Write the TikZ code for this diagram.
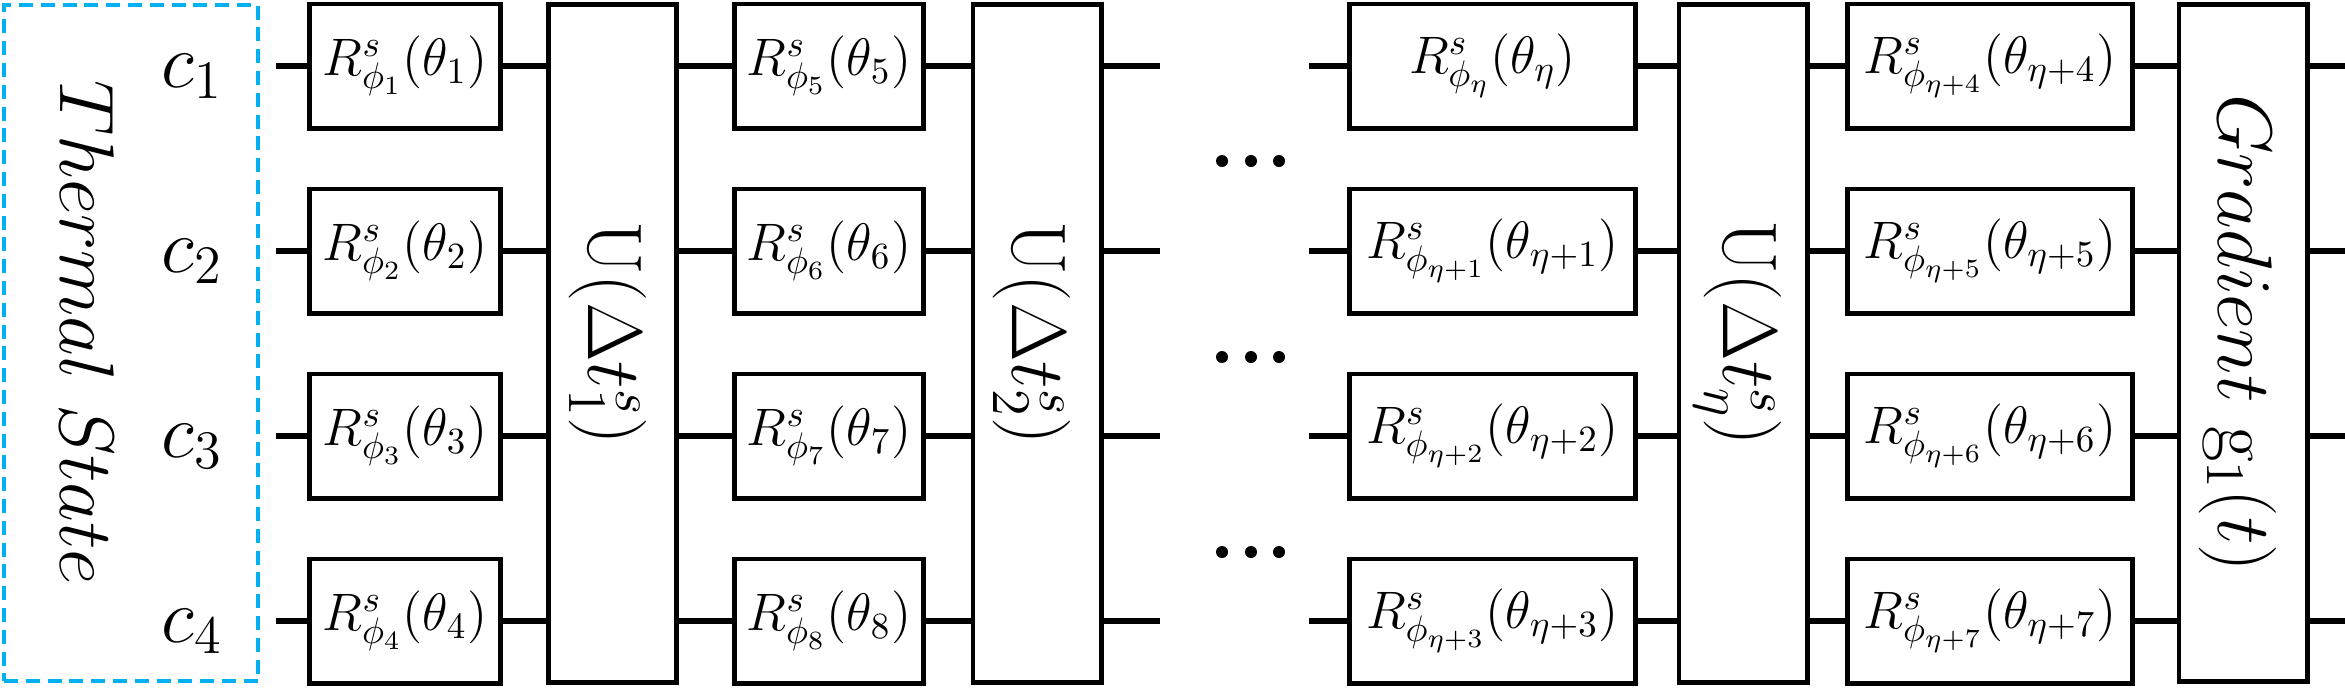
\documentclass[tikz,border=0pt]{standalone}
\usepackage{fix-cm}
\definecolor{tsblue}{RGB}{0,176,240}
\begin{document}
\begin{tikzpicture}[x=0.01cm,y=-0.01cm,
  wire/.style={line width=1.8pt},
  rgate/.style={draw, line width=1.4pt, minimum width=#1, minimum height=1.24cm, inner sep=0pt, font=\fontsize{15}{17}\selectfont},
  ugate/.style={draw, line width=1.4pt, minimum width=1.28cm, minimum height=6.77cm, inner sep=0pt},
  biglabel/.style={rotate=-90, inner sep=0pt, font=\fontsize{22}{26}\selectfont},
  clabel/.style={anchor=base, inner sep=0pt, font=\fontsize{22}{26}\selectfont},
  tsbox/.style={draw=tsblue, dash pattern=on 4pt off 2.2pt, line width=1.2pt, minimum width=2.54cm, minimum height=6.76cm, inner sep=0pt},
  dotfill/.style={fill=black}
]
\useasboundingbox (0,0) rectangle (2345,690);

% thermal state box
\node[tsbox] (TS) at (131,343) {};
\node[biglabel] (TSt) at (87,333) {$Thermal\ State$};

% rows
\foreach \i/\y in {1/66,2/251,3/436,4/621} {
  \coordinate (s\i) at (276,\y);
  \coordinate (e\i) at (1160,\y);
  \coordinate (f\i) at (1309,\y);
  \coordinate (t\i) at (2345,\y);
  \node[clabel] (c\i) at (192,\y+21) {$c_{\i}$};
}

% column 1
\node[rgate=1.9cm] (A1) at (405,66)  {$R^s_{\phi_1}(\theta_1)$};
\node[rgate=1.9cm] (A2) at (405,251) {$R^s_{\phi_2}(\theta_2)$};
\node[rgate=1.9cm] (A3) at (405,436) {$R^s_{\phi_3}(\theta_3)$};
\node[rgate=1.9cm] (A4) at (405,621) {$R^s_{\phi_4}(\theta_4)$};

% U1
\node[ugate] (U1) at (612.5,343.5) {};
\node[biglabel] (U1t) at (608,333) {$\mathrm{U}(\Delta t_1^s)$};

% column 2
\node[rgate=1.88cm] (B1) at (829,66)  {$R^s_{\phi_5}(\theta_5)$};
\node[rgate=1.88cm] (B2) at (829,251) {$R^s_{\phi_6}(\theta_6)$};
\node[rgate=1.88cm] (B3) at (829,436) {$R^s_{\phi_7}(\theta_7)$};
\node[rgate=1.88cm] (B4) at (829,621) {$R^s_{\phi_8}(\theta_8)$};

% U2
\node[ugate] (U2) at (1037,343.5) {};
\node[biglabel] (U2t) at (1032,333) {$\mathrm{U}(\Delta t_2^s)$};

% dots
\foreach \y in {161,357,552} {
  \foreach \x in {1222,1251,1279} {
    \fill[dotfill] (\x,\y) circle[radius=0.06cm];
  }
}

% column 3
\node[rgate=2.85cm] (C1) at (1492.5,66)  {$R^s_{\phi_\eta}\bigl(\theta_\eta\bigr)$};
\node[rgate=2.85cm] (C2) at (1492.5,251) {$R^s_{\phi_{\eta+1}}\bigl(\theta_{\eta+1}\bigr)$};
\node[rgate=2.85cm] (C3) at (1492.5,436) {$R^s_{\phi_{\eta+2}}\bigl(\theta_{\eta+2}\bigr)$};
\node[rgate=2.85cm] (C4) at (1492.5,621) {$R^s_{\phi_{\eta+3}}\bigl(\theta_{\eta+3}\bigr)$};

% U eta
\node[ugate] (Un) at (1743,343.5) {};
\node[biglabel] (Unt) at (1738,333) {$\mathrm{U}(\Delta t_\eta^s)$};

% column 4
\node[rgate=2.84cm] (D1) at (1990,66)  {$R^s_{\phi_{\eta+4}}\bigl(\theta_{\eta+4}\bigr)$};
\node[rgate=2.84cm] (D2) at (1990,251) {$R^s_{\phi_{\eta+5}}\bigl(\theta_{\eta+5}\bigr)$};
\node[rgate=2.84cm] (D3) at (1990,436) {$R^s_{\phi_{\eta+6}}\bigl(\theta_{\eta+6}\bigr)$};
\node[rgate=2.84cm] (D4) at (1990,621) {$R^s_{\phi_{\eta+7}}\bigl(\theta_{\eta+7}\bigr)$};

% gradient
\node[ugate] (G) at (2243,343) {};
\node[biglabel] (Gt) at (2238,333) {$Gradient\ \mathrm{g}_1(t)$};

% wires
\foreach \i in {1,...,4} {
  \draw[wire] (s\i) -- (A\i.west);
  \draw[wire] (A\i.east) -- (A\i.east -| U1.west);
  \draw[wire] (B\i.west -| U1.east) -- (B\i.west);
  \draw[wire] (B\i.east) -- (B\i.east -| U2.west);
  \draw[wire] (e\i -| U2.east) -- (e\i);
  \draw[wire] (f\i) -- (C\i.west);
  \draw[wire] (C\i.east) -- (C\i.east -| Un.west);
  \draw[wire] (D\i.west -| Un.east) -- (D\i.west);
  \draw[wire] (D\i.east) -- (D\i.east -| G.west);
  \draw[wire] (t\i -| G.east) -- (t\i);
}
\end{tikzpicture}
\end{document}
